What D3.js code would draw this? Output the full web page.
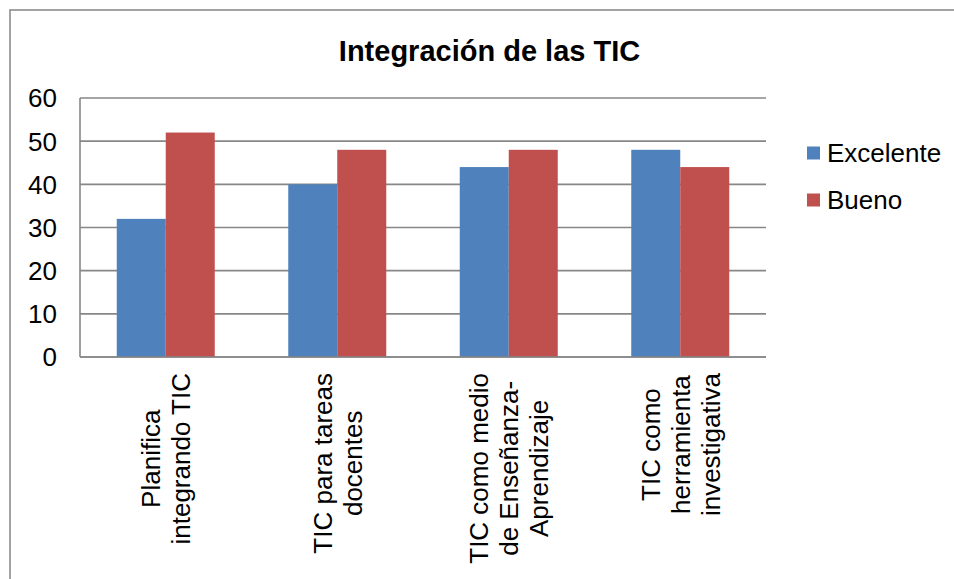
<!DOCTYPE html>
<html lang="es">
<head>
    <meta charset="UTF-8">
    <title>Integración de las TIC</title>
    <script src="https://d3js.org/d3.v7.min.js"></script>
    <style>
        body { margin: 0; background: #fff; }
        svg { display: block; font-family: "Liberation Sans", Arial, sans-serif; }
        .grid line { stroke: #878787; stroke-width: 1.6; }
        .tick-label { font-size: 26px; fill: #000; }
        .cat-label { font-size: 26px; fill: #000; }
        .legend text { font-size: 26px; fill: #000; }
    </style>
</head>
<body>

<div id="chart"></div>

<script>
var categories = [
    ["Planifica", "integrando TIC"],
    ["TIC para tareas", "docentes"],
    ["TIC como medio", "de Enseñanza-", "Aprendizaje"],
    ["TIC como", "herramienta", "investigativa"]
];
var seriesNames = ["Excelente", "Bueno"];
var excelente = [32, 40, 44, 48];
var bueno = [52, 48, 48, 44];
var yTicks = [0, 10, 20, 30, 40, 50, 60];
var colors = ["#4F81BD", "#C0504D"];

var width = 954, height = 579;
var plot = { left: 80, right: 766, top: 98, bottom: 357 };

var svg = d3.select("#chart").append("svg")
    .attr("width", width)
    .attr("height", height);

// chart frame (runs off the right and bottom edges in the original)
svg.append("rect")
    .attr("x", 10).attr("y", 10)
    .attr("width", 1000).attr("height", 1000)
    .attr("fill", "#fff")
    .attr("stroke", "#8c8c8c")
    .attr("stroke-width", 1.6);

svg.append("text")
    .attr("x", 489.5)
    .attr("y", 61)
    .attr("text-anchor", "middle")
    .style("font-size", "29px")
    .style("font-weight", "bold")
    .text("Integración de las TIC");

// gap width 150%: category = 2 bars + 1.5 bar of gap
var x0 = d3.scaleBand()
    .domain(d3.range(categories.length))
    .range([plot.left, plot.right])
    .paddingInner(1.5 / 3.5)
    .paddingOuter(0.75 / 3.5);

var x1 = d3.scaleBand()
    .domain(d3.range(seriesNames.length))
    .range([0, x0.bandwidth()]);

var y = d3.scaleLinear()
    .domain([0, 60])
    .range([plot.bottom, plot.top]);

// gridlines
var grid = svg.append("g").attr("class", "grid");
grid.selectAll("line")
    .data(yTicks)
    .enter().append("line")
    .attr("x1", plot.left)
    .attr("x2", plot.right)
    .attr("y1", function(d) { return y(d); })
    .attr("y2", function(d) { return y(d); });

grid.append("line")
    .attr("x1", plot.left).attr("x2", plot.left)
    .attr("y1", plot.top).attr("y2", plot.bottom);

svg.selectAll(".tick-label")
    .data(yTicks)
    .enter().append("text")
    .attr("class", "tick-label")
    .attr("x", 57)
    .attr("y", function(d) { return y(d); })
    .attr("dy", "0.36em")
    .attr("text-anchor", "end")
    .text(function(d) { return d; });

// bars
var values = [excelente, bueno];
var groups = svg.selectAll(".group")
    .data(categories)
    .enter().append("g")
    .attr("class", "group")
    .attr("transform", function(d, i) { return "translate(" + x0(i) + ",0)"; });

groups.selectAll("rect")
    .data(function(d, i) { return values.map(function(v) { return v[i]; }); })
    .enter().append("rect")
    .attr("x", function(d, s) { return x1(s); })
    .attr("y", function(d) { return y(d); })
    .attr("width", x1.bandwidth())
    .attr("height", function(d) { return y(0) - y(d); })
    .attr("fill", function(d, s) { return colors[s]; });

// redraw the bottom axis line on top of the bars
svg.append("line")
    .attr("x1", plot.left).attr("x2", plot.right)
    .attr("y1", plot.bottom).attr("y2", plot.bottom)
    .attr("stroke", "#878787")
    .attr("stroke-width", 1.6);

// rotated category labels, block anchored just below the axis
var lineGap = 30;
var labelTop = 373;
categories.forEach(function(lines, i) {
    var cx = x0(i) + x0.bandwidth() / 2;
    var g = svg.append("g")
        .attr("transform", "translate(" + cx + "," + labelTop + ") rotate(-90)");
    var t = g.selectAll("text")
        .data(lines)
        .enter().append("text")
        .attr("class", "cat-label")
        .attr("text-anchor", "middle")
        .attr("y", function(d, k) { return (k - (lines.length - 1) / 2) * lineGap; })
        .attr("dy", "0.36em")
        .text(function(d) { return d; });
    var maxW = 0;
    t.each(function() { maxW = Math.max(maxW, this.getComputedTextLength()); });
    t.attr("x", -maxW / 2);
});

// legend
var legend = svg.selectAll(".legend")
    .data(seriesNames)
    .enter().append("g")
    .attr("class", "legend")
    .attr("transform", function(d, i) { return "translate(807," + (153 + i * 47) + ")"; });

legend.append("rect")
    .attr("x", 0)
    .attr("y", -6.5)
    .attr("width", 13)
    .attr("height", 13)
    .attr("fill", function(d, i) { return colors[i]; });

legend.append("text")
    .attr("x", 20)
    .attr("y", 0)
    .attr("dy", "0.36em")
    .text(function(d) { return d; });
</script>

</body>
</html>
